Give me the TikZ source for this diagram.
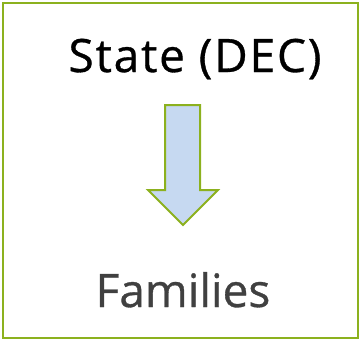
\documentclass[tikz,border=0pt]{standalone}
\usepackage{fontspec}
\setmainfont{Open Sans}
\newfontfamily\lblfont{Open Sans}[FakeBold=0.7]
\newfontfamily\lblwidefont{Open Sans}[FakeBold=0.7, LetterSpace=4]
\definecolor{frame}{HTML}{8CB11E}
\definecolor{arrowfill}{HTML}{C6D9F1}
\definecolor{textgray}{HTML}{404040}
\tikzset{
  lbl/.style={inner sep=0pt, anchor=base, font=\lblfont\fontsize{46}{54}\selectfont},
  widelbl/.style={inner sep=0pt, anchor=base, font=\lblwidefont\fontsize{46}{54}\selectfont},
  bigarrow/.style={draw=frame, fill=arrowfill, line width=2pt, line join=miter}
}
\begin{document}
\begin{tikzpicture}[x=1pt,y=-1pt]
\useasboundingbox (0,0) rectangle (361,340);
\draw[frame, line width=2.5pt] (3,3) rectangle (358,338);
\node[widelbl, text=black] (state) at (195,72) {State (DEC)};
\node[lbl, text=textgray] (fam) at (183,307) {Families};
\draw[bigarrow] (165,105) -- (200,105) -- (200,190) -- (218,190) -- (183,225) -- (148,190) -- (165,190) -- cycle;
\end{tikzpicture}
\end{document}
